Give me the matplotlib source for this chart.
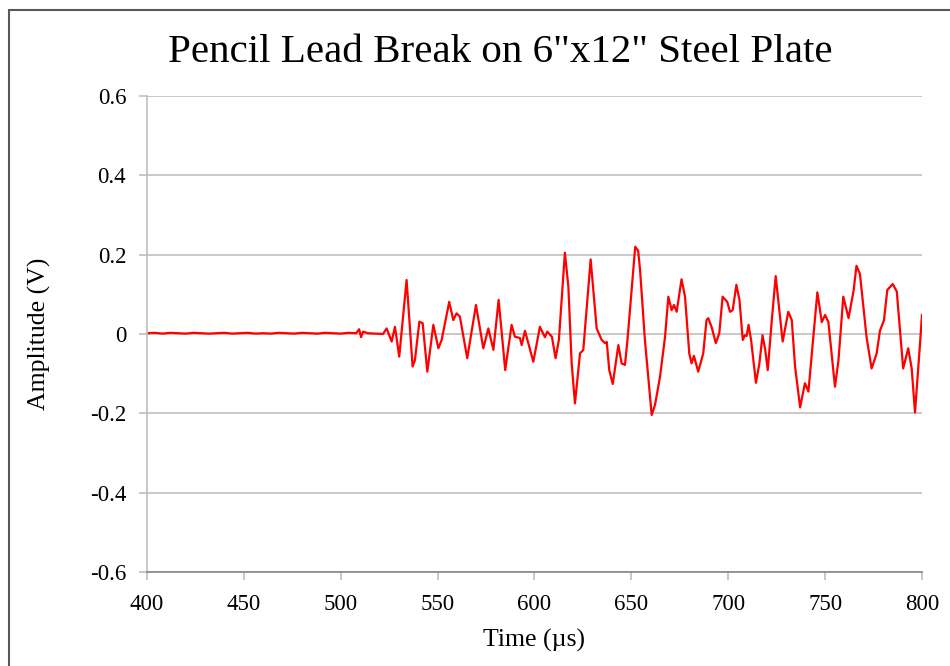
import matplotlib.pyplot as plt
from matplotlib.patches import Rectangle

# waveform vertices (time in us, amplitude in V)
time_us = [400, 404, 408, 412, 416, 420, 424, 428, 432, 436, 440, 444, 448, 452,
           456, 460, 464, 468, 472, 476, 480, 484, 488, 492, 496, 500, 504, 508,
           509.5, 510.5, 511.5, 514, 518, 521.8,
           523.7, 526.3, 528, 530.2, 534, 537.1, 538.3, 540.6, 542.3, 544.7,
           547.8, 550.4, 552.1, 556.0, 558.1, 559.8, 561.5, 565.3, 569.8, 573.6,
           576.2, 578.8, 581.5, 584.9, 588.2, 589.9, 592.5, 593.4, 595.1, 599.4,
           602.8, 605.4, 606.6, 609.0, 610.9, 612.6, 615.7, 617.5, 619.2, 620.9,
           622.6, 623.5, 625.2, 629.0, 632.1, 634.7, 636.4, 637.3, 638.6, 640.4,
           643.3, 645.0, 646.7, 648.0, 652.0, 653.5, 654.5, 657.0, 660.5, 662.2,
           664.8, 667.4, 669.1, 670.8, 672.0, 673.4, 675.9, 677.7, 679.9, 681.1,
           682.3, 684.5, 687.1, 688.8, 689.7, 691.4, 693.6, 695.4, 697.1, 699.5,
           700.9, 702.3, 704.2, 705.8, 707.5, 708.6, 709.5, 710.5, 711.8, 714.3,
           716.1, 717.7, 719.1, 720.4, 722.5, 724.5, 726.4, 728.1, 731.0, 732.8,
           734.5, 737.1, 739.6, 741.4, 746.0, 748.3, 750.0, 751.7, 755.1, 756.9,
           759.4, 762.1, 764.7, 766.2, 768.0, 771.4, 774.0, 776.6, 778.3, 780.4,
           782.1, 784.9, 787.0, 790.3, 792.9, 794.7, 796.4, 799.0, 800.0]
amplitude_v = [0.002, 0.003, 0.001, 0.003, 0.002, 0.001, 0.003, 0.002, 0.001, 0.002,
               0.003, 0.001, 0.002, 0.003, 0.001, 0.002, 0.001, 0.003, 0.002, 0.001,
               0.003, 0.002, 0.001, 0.003, 0.002, 0.001, 0.003, 0.002,
               0.012, -0.008, 0.006, 0.002, 0.001, 0.000,
               0.014, -0.019, 0.018, -0.057, 0.136, -0.082, -0.066, 0.031, 0.027, -0.095,
               0.023, -0.036, -0.015, 0.081, 0.035, 0.052, 0.044, -0.061, 0.073, -0.036,
               0.014, -0.040, 0.086, -0.091, 0.023, -0.007, -0.010, -0.028, 0.008, -0.070,
               0.018, -0.008, 0.006, -0.007, -0.061, -0.015, 0.205, 0.119, -0.074, -0.175,
               -0.091, -0.049, -0.040, 0.188, 0.014, -0.015, -0.023, -0.020, -0.091, -0.126,
               -0.028, -0.074, -0.078, -0.015, 0.220, 0.210, 0.161, -0.015, -0.204, -0.179,
               -0.108, -0.007, 0.094, 0.060, 0.073, 0.056, 0.138, 0.094, -0.049, -0.074,
               -0.055, -0.095, -0.049, 0.035, 0.040, 0.018, -0.023, 0.002, 0.094, 0.081,
               0.056, 0.060, 0.124, 0.086, -0.015, -0.003, -0.005, 0.023, -0.015, -0.123,
               -0.074, -0.003, -0.040, -0.091, 0.035, 0.146, 0.060, -0.019, 0.056, 0.035,
               -0.082, -0.185, -0.124, -0.145, 0.105, 0.030, 0.048, 0.030, -0.133, -0.066,
               0.094, 0.040, 0.109, 0.172, 0.151, -0.008, -0.087, -0.049, 0.008, 0.035,
               0.111, 0.126, 0.107, -0.087, -0.036, -0.087, -0.198, -0.024, 0.048]

x_ticks = [400, 450, 500, 550, 600, 650, 700, 750, 800]
y_ticks = [-0.6, -0.4, -0.2, 0, 0.2, 0.4, 0.6]
y_labels = ['-0.6', '-0.4', '-0.2', '0', '0.2', '0.4', '0.6']

plt.rcParams['font.family'] = ['Liberation Serif', 'DejaVu Serif']

fig = plt.figure(figsize=(9.5, 6.66), dpi=100)
ax = fig.add_axes([0.1547, 0.1411, 0.8158, 0.7148])

# outer frame of the chart area
fig.patches.append(Rectangle((9 / 950, -0.05), 1.0, 1.0 - 10 / 666 + 0.05,
                             transform=fig.transFigure, fill=False,
                             edgecolor='#595959', linewidth=1.5))

ax.plot(time_us, amplitude_v, color='#ff0000', linewidth=1.6)

ax.set_xlim(400, 800)
ax.set_ylim(-0.6, 0.6)
ax.set_xticks(x_ticks)
ax.set_yticks(y_ticks)
ax.set_yticklabels(y_labels)

ax.grid(True, axis='y', color='#bfbfbf', linewidth=1.2)
ax.set_axisbelow(True)
for s in ['top', 'right']:
    ax.spines[s].set_visible(False)
ax.spines['left'].set_color('#bfbfbf')
ax.spines['left'].set_linewidth(1.2)
ax.spines['bottom'].set_color('#868686')
ax.spines['bottom'].set_linewidth(1.2)
ax.tick_params(axis='y', length=6, width=1.2, color='#bfbfbf', labelsize=16.5, pad=9)
ax.tick_params(axis='x', length=6, width=1.2, color='#bfbfbf', labelsize=16.5, pad=10)

fig.text(500 / 950, 1 - 52 / 666, 'Pencil Lead Break on 6"x12" Steel Plate',
         fontsize=29.5, ha='center', va='center')
ax.set_xlabel('Time (µs)', fontsize=18.5, labelpad=10)
ax.set_ylabel('Amplitude (V)', fontsize=18.5, labelpad=28)

fig.savefig('out.png', dpi=100)
